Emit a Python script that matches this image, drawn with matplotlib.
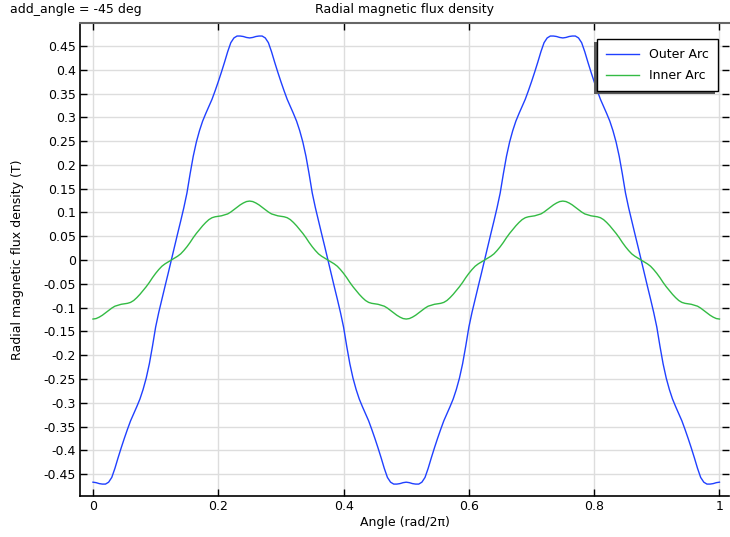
import numpy as np
import matplotlib
matplotlib.use("Agg")
import matplotlib.pyplot as plt
import matplotlib.patheffects as pe
from matplotlib.ticker import FuncFormatter

# %%
# angle in rad/2pi, step 0.005
angle = np.linspace(0, 1, 201)

# radial flux density on the outer arc (T)
outer_arc = [
    -0.467, -0.468, -0.470, -0.471, -0.471, -0.467, -0.457, -0.438, -0.416, -0.395, -0.375, -0.356, -0.338,
    -0.323, -0.308, -0.292, -0.272, -0.248, -0.218, -0.181, -0.141, -0.110, -0.082, -0.055, -0.028, 0.000,
    0.028, 0.055, 0.082, 0.110, 0.141, 0.181, 0.218, 0.248, 0.272, 0.292, 0.308, 0.323, 0.338,
    0.356, 0.375, 0.395, 0.416, 0.438, 0.457, 0.467, 0.471, 0.471, 0.470, 0.468, 0.467,
    0.468, 0.470, 0.471, 0.471, 0.467, 0.457, 0.438, 0.416, 0.395, 0.375, 0.356, 0.338, 0.323,
    0.308, 0.292, 0.272, 0.248, 0.218, 0.181, 0.141, 0.110, 0.082, 0.055, 0.028, 0.000,
    -0.028, -0.055, -0.082, -0.110, -0.141, -0.181, -0.218, -0.248, -0.272, -0.292, -0.308, -0.323, -0.338,
    -0.356, -0.375, -0.395, -0.416, -0.438, -0.457, -0.467, -0.471, -0.471, -0.470, -0.468, -0.467,
    -0.468, -0.470, -0.471, -0.471, -0.467, -0.457, -0.438, -0.416, -0.395, -0.375, -0.356, -0.338,
    -0.323, -0.308, -0.292, -0.272, -0.248, -0.218, -0.181, -0.141, -0.110, -0.082, -0.055, -0.028, 0.000,
    0.028, 0.055, 0.082, 0.110, 0.141, 0.181, 0.218, 0.248, 0.272, 0.292, 0.308, 0.323, 0.338,
    0.356, 0.375, 0.395, 0.416, 0.438, 0.457, 0.467, 0.471, 0.471, 0.470, 0.468, 0.467,
    0.468, 0.470, 0.471, 0.471, 0.467, 0.457, 0.438, 0.416, 0.395, 0.375, 0.356, 0.338, 0.323,
    0.308, 0.292, 0.272, 0.248, 0.218, 0.181, 0.141, 0.110, 0.082, 0.055, 0.028, 0.000,
    -0.028, -0.055, -0.082, -0.110, -0.141, -0.181, -0.218, -0.248, -0.272, -0.292, -0.308, -0.323, -0.338,
    -0.356, -0.375, -0.395, -0.416, -0.438, -0.457, -0.467, -0.471, -0.471, -0.470, -0.468, -0.467,
]

# radial flux density on the inner arc (T)
inner_arc = [
    -0.124, -0.123, -0.120, -0.116, -0.111, -0.106, -0.101, -0.097, -0.095, -0.093, -0.092, -0.091, -0.089,
    -0.085, -0.079, -0.072, -0.064, -0.056, -0.047, -0.037, -0.028, -0.020, -0.013, -0.008, -0.004, 0.000,
    0.004, 0.008, 0.013, 0.020, 0.028, 0.037, 0.047, 0.056, 0.064, 0.072, 0.079, 0.085, 0.089,
    0.091, 0.092, 0.093, 0.095, 0.097, 0.101, 0.106, 0.111, 0.116, 0.120, 0.123, 0.124,
    0.123, 0.120, 0.116, 0.111, 0.106, 0.101, 0.097, 0.095, 0.093, 0.092, 0.091, 0.089, 0.085,
    0.079, 0.072, 0.064, 0.056, 0.047, 0.037, 0.028, 0.020, 0.013, 0.008, 0.004, 0.000,
    -0.004, -0.008, -0.013, -0.020, -0.028, -0.037, -0.047, -0.056, -0.064, -0.072, -0.079, -0.085, -0.089,
    -0.091, -0.092, -0.093, -0.095, -0.097, -0.101, -0.106, -0.111, -0.116, -0.120, -0.123, -0.124,
    -0.123, -0.120, -0.116, -0.111, -0.106, -0.101, -0.097, -0.095, -0.093, -0.092, -0.091, -0.089,
    -0.085, -0.079, -0.072, -0.064, -0.056, -0.047, -0.037, -0.028, -0.020, -0.013, -0.008, -0.004, 0.000,
    0.004, 0.008, 0.013, 0.020, 0.028, 0.037, 0.047, 0.056, 0.064, 0.072, 0.079, 0.085, 0.089,
    0.091, 0.092, 0.093, 0.095, 0.097, 0.101, 0.106, 0.111, 0.116, 0.120, 0.123, 0.124,
    0.123, 0.120, 0.116, 0.111, 0.106, 0.101, 0.097, 0.095, 0.093, 0.092, 0.091, 0.089, 0.085,
    0.079, 0.072, 0.064, 0.056, 0.047, 0.037, 0.028, 0.020, 0.013, 0.008, 0.004, 0.000,
    -0.004, -0.008, -0.013, -0.020, -0.028, -0.037, -0.047, -0.056, -0.064, -0.072, -0.079, -0.085, -0.089,
    -0.091, -0.092, -0.093, -0.095, -0.097, -0.101, -0.106, -0.111, -0.116, -0.120, -0.123, -0.124,
]

x_ticks = [0, 0.2, 0.4, 0.6, 0.8, 1.0]
y_ticks = np.round(np.arange(-0.45, 0.451, 0.05), 2)

# %%
plt.rcParams['font.family'] = 'DejaVu Sans'
plt.rcParams['font.size'] = 9

fig = plt.figure(figsize=(7.3, 5.37), dpi=100)
ax = fig.add_axes([0.1096, 0.0764, 0.8897, 0.8813])

ax.plot(angle, outer_arc, color='#2040ff', lw=1.0, label='Outer Arc')
ax.plot(angle, inner_arc, color='#33bb44', lw=1.0, label='Inner Arc')

ax.set_xlim(-0.0207, 1.016)
ax.set_ylim(-0.496, 0.499)
ax.set_xticks(x_ticks)
ax.set_yticks(y_ticks)


def fmt(v, pos):
    s = ('%.2f' % v).rstrip('0').rstrip('.')
    if s in ('-0', '0.'):
        s = '0'
    return s


ax.xaxis.set_major_formatter(FuncFormatter(fmt))
ax.yaxis.set_major_formatter(FuncFormatter(fmt))
ax.grid(True, color='#dddddd', lw=1.0)
ax.set_axisbelow(True)

ax.tick_params(direction='in', length=5, width=1, top=True, right=True, labelsize=9, pad=3)
ax.spines['right'].set_visible(False)
ax.spines['top'].set_color('#666666')
ax.spines['top'].set_linewidth(1.5)
ax.spines['left'].set_linewidth(1.2)
ax.spines['bottom'].set_linewidth(1.2)

ax.set_xlabel('Angle (rad/2\u03c0)', fontsize=9, labelpad=2)
ax.set_ylabel('Radial magnetic flux density (T)', fontsize=9, labelpad=14)
ax.set_title('Radial magnetic flux density', fontsize=9, pad=7)
fig.text(10 / 730, 1 - 9 / 537, 'add_angle = -45 deg', fontsize=9, va='center', ha='left')

leg = ax.legend(loc='upper right', bbox_to_anchor=(0.982, 0.9655), borderaxespad=0, fancybox=False,
                framealpha=1, edgecolor='black', fontsize=9, handlelength=2.6, borderpad=0.75,
                labelspacing=0.6)
leg.get_frame().set_linewidth(1.0)
leg.get_frame().set_path_effects([pe.SimplePatchShadow(offset=(-2.2, -2.2), shadow_rgbFace='0.35', alpha=1),
                                  pe.Normal()])

fig.savefig('out.png', dpi=100)
